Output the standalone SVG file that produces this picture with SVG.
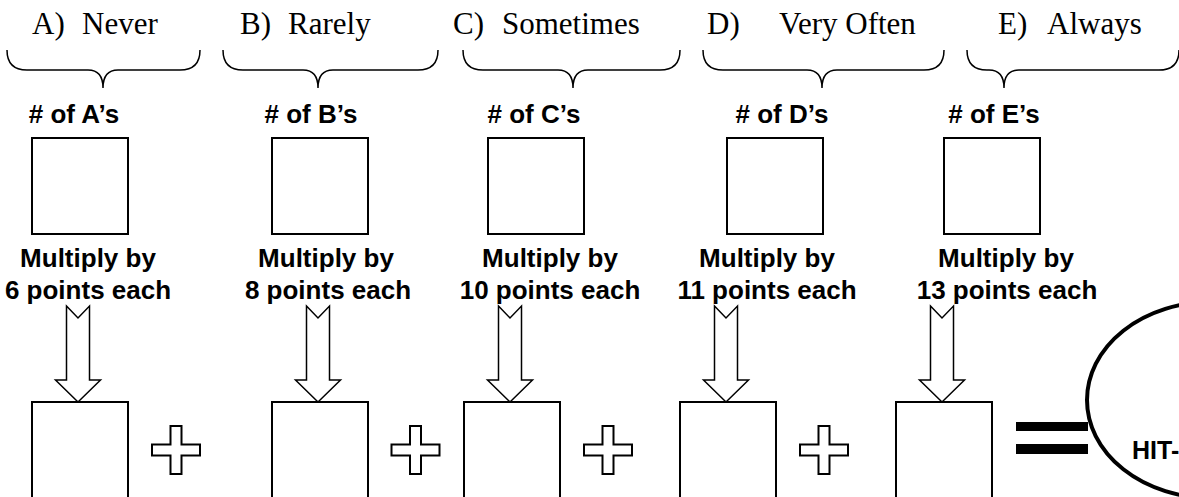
<svg xmlns="http://www.w3.org/2000/svg" width="1179" height="497" viewBox="0 0 1179 497">
<style>
.cat{font-family:"Liberation Serif","Times New Roman",serif;font-size:31px;fill:#000}
.lbl{font-family:"Liberation Sans",Arial,sans-serif;font-size:26px;font-weight:bold;fill:#000;text-anchor:middle}
.brace{fill:none;stroke:#000;stroke-width:1.5}
.box{fill:#fff;stroke:#000;stroke-width:2}
.arrow{fill:#fff;stroke:#000;stroke-width:1.5;stroke-linejoin:miter}
.plus{fill:#fff;stroke:#000;stroke-width:2}
</style>
<defs>
<path id="arr" class="arrow" d="M-11.5,306 L0,318 L11.5,306 L11.5,380 L22.5,380 L0,402 L-22.5,380 L-11.5,380 Z"/>
<path id="pls" class="plus" d="M-5.5,-24 H5.5 V-5.5 H24 V5.5 H5.5 V24 H-5.5 V5.5 H-24 V-5.5 H-5.5 Z"/>
</defs>
<rect width="1179" height="497" fill="#fff"/>

<g id="connectors">
<use href="#arr" x="78"/>
<use href="#arr" x="318"/>
<use href="#arr" x="510"/>
<use href="#arr" x="726"/>
<use href="#arr" x="942"/>
</g>

<g id="cat-a">
<text class="cat" x="32" y="34">A)</text><text class="cat" x="82" y="34">Never</text>
<path class="brace" d="M7,50 Q7,70 27,70 L88,70 Q103,70 103,88 Q103,70 118,70 L180,70 Q200,70 200,50"/>
<text class="lbl" x="74" y="123">#&#160;of A’s</text>
<rect class="box" x="32" y="138" width="96" height="96"/>
<text class="lbl" x="88" y="267">Multiply by</text>
<text class="lbl" x="88" y="299">6 points each</text>
</g>
<g id="cat-b">
<text class="cat" x="240" y="34">B)</text><text class="cat" x="288" y="34">Rarely</text>
<path class="brace" d="M223,50 Q223,70 243,70 L303,70 Q318,70 318,88 Q318,70 333,70 L418,70 Q438,70 438,50"/>
<text class="lbl" x="311" y="123">#&#160;of B’s</text>
<rect class="box" x="272" y="138" width="96" height="96"/>
<text class="lbl" x="326" y="267">Multiply by</text>
<text class="lbl" x="328" y="299">8 points each</text>
</g>
<g id="cat-c">
<text class="cat" x="453" y="34">C)</text><text class="cat" x="502" y="34">Sometimes</text>
<path class="brace" d="M463,50 Q463,70 483,70 L558,70 Q573,70 573,88 Q573,70 588,70 L660,70 Q680,70 680,50"/>
<text class="lbl" x="534" y="123">#&#160;of C’s</text>
<rect class="box" x="488" y="138" width="96" height="96"/>
<text class="lbl" x="550" y="267">Multiply by</text>
<text class="lbl" x="550" y="299">10 points each</text>
</g>
<g id="cat-d">
<text class="cat" x="707" y="34">D)</text><text class="cat" x="779" y="34">Very Often</text>
<path class="brace" d="M703,50 Q703,70 723,70 L807,70 Q822,70 822,88 Q822,70 837,70 L924,70 Q944,70 944,50"/>
<text class="lbl" x="782" y="123">#&#160;of D’s</text>
<rect class="box" x="727" y="138" width="96" height="96"/>
<text class="lbl" x="767" y="267">Multiply by</text>
<text class="lbl" x="767" y="299">11 points each</text>
</g>
<g id="cat-e">
<text class="cat" x="998" y="34">E)</text><text class="cat" x="1047" y="34">Always</text>
<path class="brace" d="M967,50 Q967,70 987,70 L989,70 Q1004,70 1004,88 Q1004,70 1019,70 L1159,70 Q1179,70 1179,50"/>
<text class="lbl" x="994" y="123">#&#160;of E’s</text>
<rect class="box" x="944" y="138" width="96" height="96"/>
<text class="lbl" x="1006" y="267">Multiply by</text>
<text class="lbl" x="1007" y="299">13 points each</text>
</g>

<g id="result-a"><rect class="box" x="32" y="402" width="96" height="110"/></g>
<g id="result-b"><rect class="box" x="272" y="402" width="96" height="110"/></g>
<g id="result-c"><rect class="box" x="464" y="402" width="96" height="110"/></g>
<g id="result-d"><rect class="box" x="680" y="402" width="96" height="110"/></g>
<g id="result-e"><rect class="box" x="896" y="402" width="96" height="110"/></g>

<g id="operators">
<use href="#pls" x="176" y="450"/>
<use href="#pls" x="415.5" y="450"/>
<use href="#pls" x="608" y="450"/>
<use href="#pls" x="824" y="450"/>
<rect x="1016" y="422" width="72" height="9" fill="#000"/>
<rect x="1016" y="444" width="72" height="10" fill="#000"/>
</g>

<g id="total">
<ellipse cx="1211" cy="400" rx="124" ry="98" fill="#fff" stroke="#000" stroke-width="4"/>
<text x="1132" y="459" style="font-family:'Liberation Sans',Arial,sans-serif;font-size:25px;font-weight:bold">HIT-</text>
</g>
</svg>
